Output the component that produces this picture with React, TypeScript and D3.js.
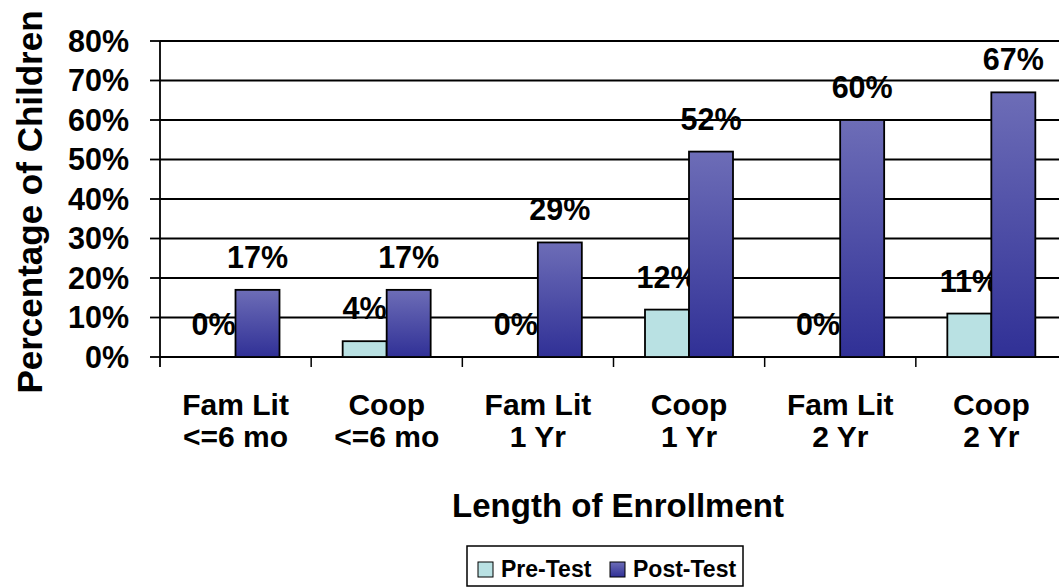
import * as d3 from 'd3'

const categories = ['Fam Lit|<=6 mo', 'Coop|<=6 mo', 'Fam Lit|1 Yr', 'Coop|1 Yr', 'Fam Lit|2 Yr', 'Coop|2 Yr']
const series = ['Pre-Test', 'Post-Test']
const preTest = [0, 4, 0, 12, 0, 11]
const postTest = [17, 17, 29, 52, 60, 67]
const yTicks = [0, 10, 20, 30, 40, 50, 60, 70, 80]

const W = 1059
const H = 587
const FONT = 'Liberation Sans, Arial, sans-serif'

const App = () => {
  const left = 160
  const right = 1067
  const top = 41
  const bottom = 357

  const x = d3.scaleBand().domain(categories).range([left, right])
  const inner = d3.scaleBand().domain(series).range([31.5, 119.5])
  const y = d3.scaleLinear().domain([0, 80]).range([bottom, top])
  const color = d3.scaleOrdinal<string, string>().domain(series).range(['#b9e1e3', 'url(#postGrad)'])

  const values = [preTest, postTest]

  return (
    <svg width={W} height={H} style={{ position: 'absolute', left: 0, top: 0 }} fontFamily={FONT} fontWeight="bold">
      <defs>
        <linearGradient id="postGrad" x1="0" y1="0" x2="0" y2="1">
          <stop offset="0%" stopColor="#6d6db7" />
          <stop offset="100%" stopColor="#303096" />
        </linearGradient>
      </defs>
      <rect width={W} height={H} fill="#fff" />

      {/* gridlines and y ticks */}
      {yTicks.map(t => (
        <g key={t}>
          <line x1={left} x2={W} y1={y(t)} y2={y(t)} stroke="#000" strokeWidth={1.8} />
          <line x1={150} x2={left} y1={y(t)} y2={y(t)} stroke="#000" strokeWidth={1.8} />
          <text x={129} y={y(t)} dy="0.36em" textAnchor="end" fontSize={30.5}>{t}%</text>
        </g>
      ))}
      <line x1={left} x2={left} y1={top} y2={bottom + 10} stroke="#000" strokeWidth={1.8} />

      {/* category ticks */}
      {categories.map(c => (
        <line key={c} x1={x(c)! + x.bandwidth()} x2={x(c)! + x.bandwidth()} y1={bottom} y2={bottom + 10} stroke="#000" strokeWidth={1.5} />
      ))}

      {/* bars */}
      {series.map((s, si) => (
        <g key={s}>
          {categories.map((c, ci) => {
            const v = values[si][ci]
            const bx = x(c)! + inner(s)!
            return (
              <g key={c}>
                {v > 0 && (
                  <rect x={bx} y={y(v)} width={inner.bandwidth()} height={bottom - y(v)} fill={color(s)} stroke="#000" strokeWidth={1.8} />
                )}
                <text x={bx + inner.bandwidth() / 2} y={y(v) - 22} textAnchor="middle" fontSize={30.5}>{v}%</text>
              </g>
            )
          })}
        </g>
      ))}

      {/* x labels */}
      {categories.map(c => {
        const [a, b] = c.split('|')
        const cx = x(c)! + x.bandwidth() / 2
        return (
          <text key={c} x={cx} textAnchor="middle" fontSize={30}>
            <tspan x={cx} y={415}>{a}</tspan>
            <tspan x={cx} y={447}>{b}</tspan>
          </text>
        )
      })}

      {/* axis titles */}
      <text x={618} y={517} textAnchor="middle" fontSize={33}>Length of Enrollment</text>
      <text transform="translate(42,202) rotate(-90)" textAnchor="middle" fontSize={35}>Percentage of Children</text>

      {/* legend */}
      <rect x={467} y={546} width={276} height={40} fill="#fff" stroke="#000" strokeWidth={1.5} />
      {series.map((s, i) => {
        const lx = i === 0 ? 478 : 610
        return (
          <g key={s}>
            <rect x={lx} y={562} width={15} height={15} fill={color(s)} stroke="#000" strokeWidth={1} />
            <text x={lx + 23} y={577} fontSize={23}>{s}</text>
          </g>
        )
      })}
    </svg>
  )
}

export default App
